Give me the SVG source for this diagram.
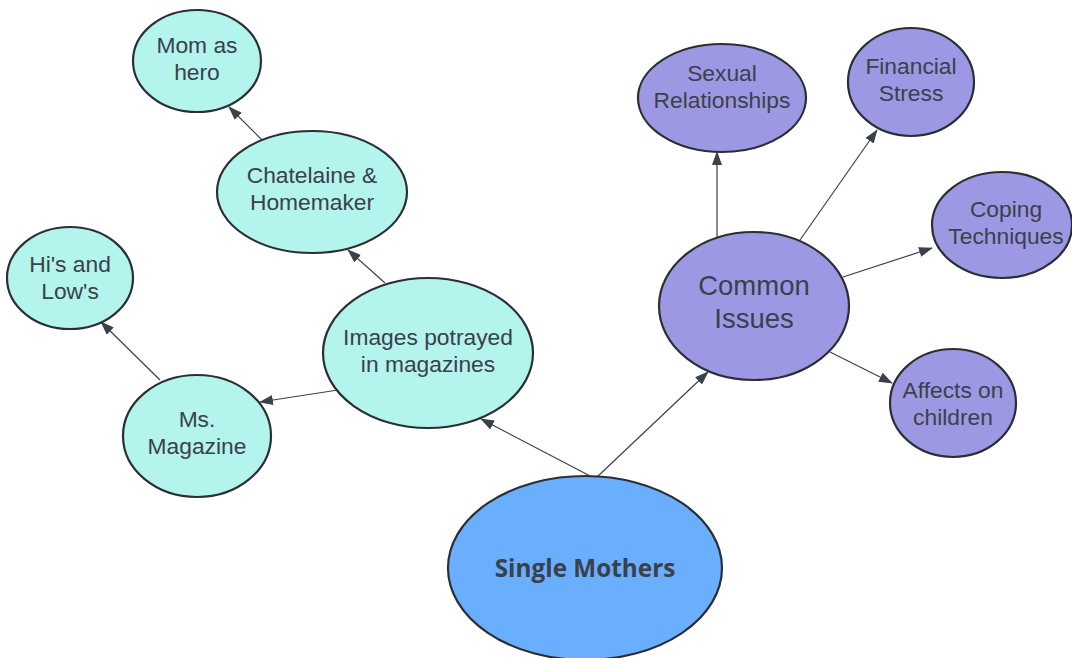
<svg xmlns="http://www.w3.org/2000/svg" width="1072" height="658" viewBox="0 0 1072 658">
<defs>
<marker id="ah" markerWidth="14" markerHeight="10" refX="13" refY="5" orient="auto" markerUnits="userSpaceOnUse">
<path d="M0,0 L14,5 L0,10 Z" fill="#3a414a"/>
</marker>
<style>
.n ellipse{stroke:#2b2f33;stroke-width:2.2}
.t ellipse{fill:#b3f4ec}
.p ellipse{fill:#9d98e4}
.b ellipse{fill:#6aaefe}
text{font-family:"Liberation Sans",Arial,sans-serif;font-size:22.8px;fill:#3a414a;text-anchor:middle}
.big{font-size:27.5px}
.sm{font-family:"Open Sans","Noto Sans",sans-serif;font-weight:bold;font-size:24.3px}
#conn line{stroke:#3a414a;stroke-width:1.2;marker-end:url(#ah)}
</style>
</defs>
<rect width="1072" height="658" fill="#ffffff"/>
<g id="conn">
<line x1="592" y1="477" x2="481" y2="419"/>
<line x1="597" y1="477" x2="708" y2="372"/>
<line x1="717" y1="238" x2="717" y2="152"/>
<line x1="800" y1="240" x2="877" y2="130"/>
<line x1="843" y1="277" x2="932" y2="248"/>
<line x1="830" y1="352" x2="892" y2="383"/>
<line x1="385" y1="283" x2="348" y2="250"/>
<line x1="262" y1="140" x2="229" y2="107"/>
<line x1="338" y1="390" x2="260" y2="402"/>
<line x1="160" y1="380" x2="101" y2="322"/>
</g>
<g id="single-mothers" class="n b"><ellipse cx="585" cy="568" rx="137" ry="92"/><text class="sm" x="585" y="577">Single Mothers</text></g>
<g id="common-issues" class="n p"><ellipse cx="754" cy="306" rx="95" ry="74"/><text class="big" x="754" y="295">Common</text><text class="big" x="754" y="328">Issues</text></g>
<g id="sexual" class="n p"><ellipse cx="722" cy="98" rx="84" ry="54"/><text x="722" y="81">Sexual</text><text x="722" y="108">Relationships</text></g>
<g id="financial" class="n p"><ellipse cx="911" cy="82" rx="63" ry="54"/><text x="911" y="74">Financial</text><text x="911" y="101">Stress</text></g>
<g id="coping" class="n p"><ellipse cx="1002" cy="225" rx="70" ry="53"/><text x="1006" y="217">Coping</text><text x="1006" y="244">Techniques</text></g>
<g id="affects" class="n p"><ellipse cx="953" cy="403" rx="63" ry="54"/><text x="953" y="398">Affects on</text><text x="953" y="425">children</text></g>
<g id="images" class="n t"><ellipse cx="428" cy="353" rx="105" ry="75"/><text x="428" y="345">Images potrayed</text><text x="428" y="372">in magazines</text></g>
<g id="chatelaine" class="n t"><ellipse cx="312" cy="192" rx="95" ry="61"/><text x="312" y="183">Chatelaine &amp;</text><text x="312" y="210">Homemaker</text></g>
<g id="mom-hero" class="n t"><ellipse cx="197" cy="61" rx="64" ry="51"/><text x="197" y="53">Mom as</text><text x="197" y="80">hero</text></g>
<g id="his-lows" class="n t"><ellipse cx="70" cy="278" rx="63" ry="51"/><text x="70" y="272">Hi's and</text><text x="70" y="299">Low's</text></g>
<g id="ms-magazine" class="n t"><ellipse cx="197" cy="436" rx="74" ry="61"/><text x="197" y="427">Ms.</text><text x="197" y="454">Magazine</text></g>
</svg>
